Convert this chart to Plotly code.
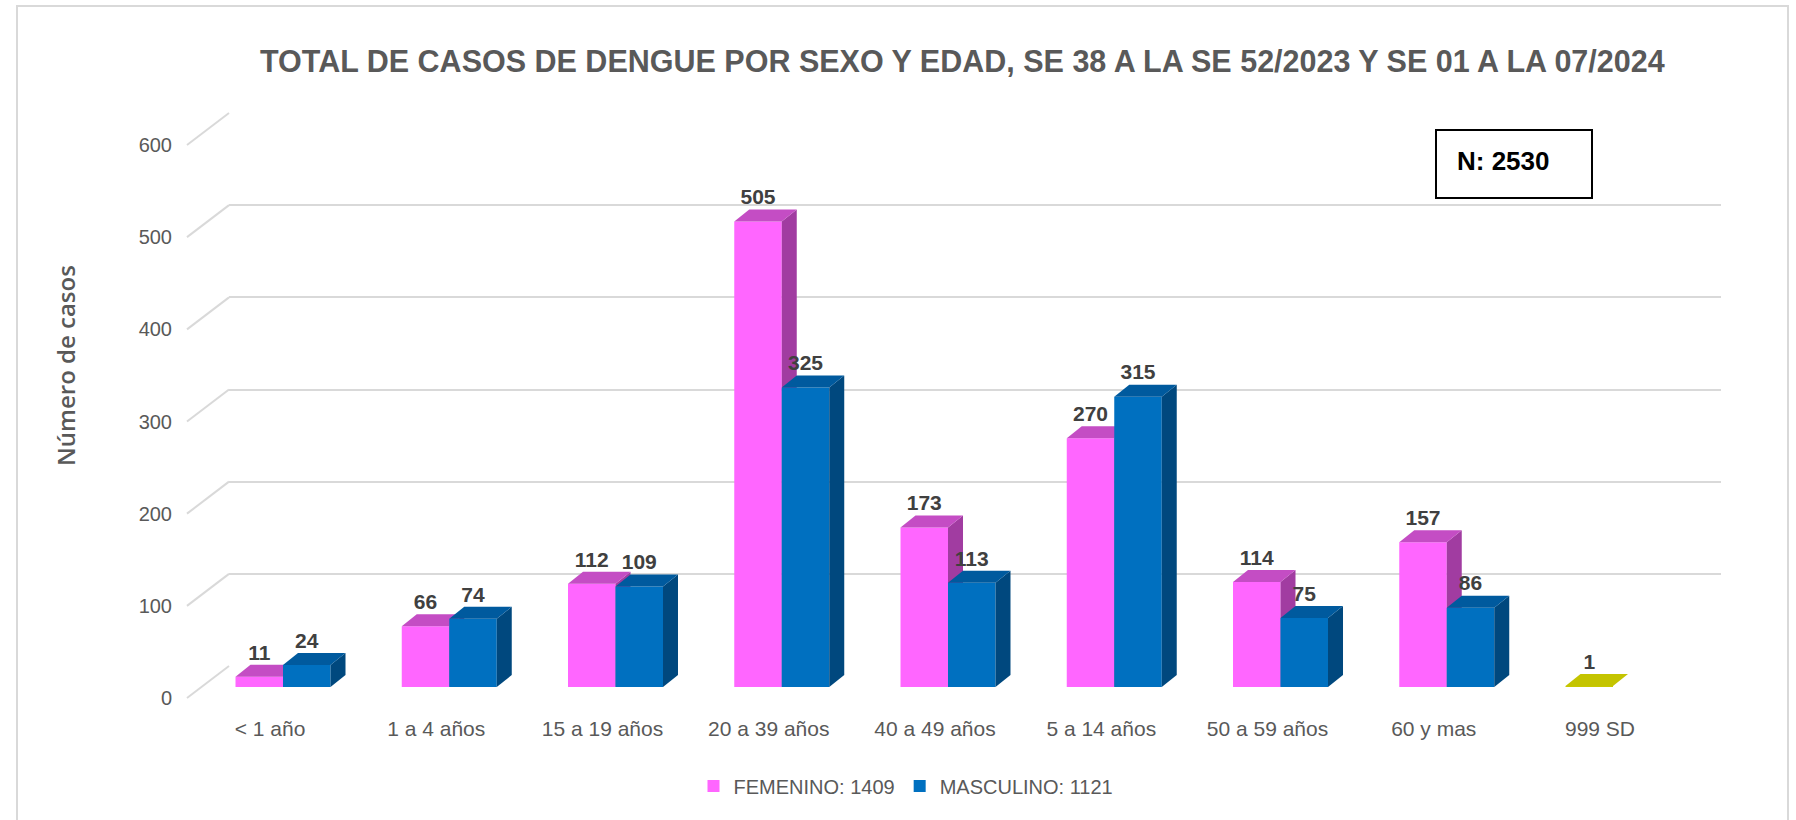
import plotly.graph_objects as go

# ---------------- data ----------------
categories = ["< 1 año", "1 a 4 años", "15 a 19 años", "20 a 39 años", "40 a 49 años",
              "5 a 14 años", "50 a 59 años", "60 y mas", "999 SD"]
femenino = [11, 66, 112, 505, 173, 270, 114, 157, 1]
masculino = [24, 74, 109, 325, 113, 315, 75, 86, None]
fem_name = "FEMENINO: 1409"
mas_name = "MASCULINO: 1121"
y_ticks = [0, 100, 200, 300, 400, 500, 600]
title_text = "TOTAL DE CASOS DE DENGUE POR SEXO Y EDAD, SE 38 A LA SE 52/2023 Y SE 01 A LA 07/2024"
n_text = "N: 2530"

# ---------------- styling / geometry ----------------
W, H = 1796, 820
def fx(p): return p / W
def fy(p): return (H - p) / H

PXU = 553.0 / 600          # pixels per value unit
CAT = 166.25               # pixels per category
BW = 47.5 / CAT            # bar width in category units
DX = 15.0 / CAT            # depth offset x (category units)
DY = 12.0 / PXU            # depth offset y (value units)

pink = dict(front="#FF66FF", top="#C44DC4", side="#A13CA1")
blue = dict(front="#0070C0", top="#005A9E", side="#00487E")
yellow = dict(front="#C8C800", top="#C4C400", side="#9E9E00")

fig = go.Figure()

# back grid subplot (xy)
fig.add_trace(go.Scatter(x=[None], y=[None], xaxis="x", yaxis="y", showlegend=False, hoverinfo="skip"))

def add_series(vals, offset, colors, name, xa, ya, point_colors=None):
    xs = list(range(len(vals)))
    fcols = []
    for i, v in enumerate(vals):
        c = point_colors[i] if point_colors and point_colors[i] else colors
        fcols.append(c["front"])
    fig.add_trace(go.Bar(x=xs, y=[v if v is not None else 0 for v in vals], width=BW, offset=offset,
                         marker=dict(color=fcols, line=dict(width=0)), name=name,
                         xaxis=xa, yaxis=ya, hoverinfo="skip"))
    for i, v in enumerate(vals):
        if v is None:
            continue
        c = point_colors[i] if point_colors and point_colors[i] else colors
        xl = i + offset
        xr = xl + BW
        top_x = [xl, xl + DX, xr + DX, xr, xl]
        top_y = [v, v + DY, v + DY, v, v]
        side_x = [xr, xr + DX, xr + DX, xr, xr]
        side_y = [0, DY, v + DY, v, 0]
        for px_, py_, col in ((side_x, side_y, c["side"]), (top_x, top_y, c["top"])):
            fig.add_trace(go.Scatter(x=px_, y=py_, fill="toself", fillcolor=col, mode="lines",
                                     line=dict(width=0, color=col), showlegend=False,
                                     xaxis=xa, yaxis=ya, hoverinfo="skip"))

fem_point_colors = [None] * (len(femenino) - 1) + [yellow]
add_series(femenino, -BW, pink, fem_name, "x2", "y2", fem_point_colors)
add_series(masculino, 0.0, blue, mas_name, "x3", "y3")

# data labels (top layer)
lab_x, lab_y, lab_t = [], [], []
for i, v in enumerate(femenino):
    lab_x.append(i - BW / 2); lab_y.append(v + DY); lab_t.append(str(v))
for i, v in enumerate(masculino):
    if v is None:
        continue
    lab_x.append(i + BW / 2); lab_y.append(v + DY); lab_t.append(str(v))
fig.add_trace(go.Scatter(x=lab_x, y=lab_y, text=lab_t, mode="text", textposition="top center",
                         textfont=dict(family="Liberation Sans, Arial", size=21, color="#404040", weight="bold"),
                         showlegend=False, xaxis="x3", yaxis="y3", hoverinfo="skip", cliponaxis=False))

# label axes subplot (x4y4)
fig.add_trace(go.Scatter(x=[None], y=[None], xaxis="x4", yaxis="y4", showlegend=False, hoverinfo="skip"))

bar_x_dom = [fx(283 - CAT / 2), fx(283 + 8.5 * CAT)]
bar_y_dom = [fy(687), fy(687 - 600 * PXU)]
grid_y_dom = [fy(666), fy(666 - 600 * PXU)]
front_y_dom = [fy(698), fy(698 - 600 * PXU)]

shapes = []
# grid stubs from front edge to back wall
for v in y_ticks:
    yf = front_y_dom[0] + v / 600 * (front_y_dom[1] - front_y_dom[0])
    yb = grid_y_dom[0] + v / 600 * (grid_y_dom[1] - grid_y_dom[0])
    shapes.append(dict(type="line", xref="paper", yref="paper", x0=fx(187), y0=yf, x1=fx(229), y1=yb,
                       line=dict(color="#D9D9D9", width=2), layer="below"))
# outer chart border
shapes.append(dict(type="rect", xref="paper", yref="paper", x0=fx(17), x1=fx(1788), y0=fy(840), y1=fy(6),
                   line=dict(color="#D9D9D9", width=2), layer="below"))
# N box
shapes.append(dict(type="rect", xref="paper", yref="paper", x0=fx(1436), x1=fx(1592), y0=fy(198), y1=fy(130),
                   line=dict(color="#000000", width=2), fillcolor="white"))

annotations = [
    dict(text=title_text, xref="paper", yref="paper", x=fx(962), y=fy(61), showarrow=False,
         xanchor="center", yanchor="middle",
         font=dict(family="Liberation Sans, Arial", size=30.5, color="#595959", weight="bold")),
    dict(text=n_text, xref="paper", yref="paper", x=fx(1455), y=fy(161), showarrow=False,
         xanchor="left", yanchor="middle",
         font=dict(family="Liberation Sans, Arial", size=26, color="#000000", weight="bold")),
    dict(text="Número de casos", xref="paper", yref="paper", x=fx(66), y=fy(366), showarrow=False,
         textangle=-90, xanchor="center", yanchor="middle",
         font=dict(family="Open Sans", size=24, color="#595959", weight=600)),
]

tick_font = dict(family="Liberation Sans, Arial", size=20, color="#595959")

fig.update_layout(
    width=W, height=H, margin=dict(l=0, r=0, t=0, b=0, pad=0, autoexpand=False),
    paper_bgcolor="white", plot_bgcolor="rgba(0,0,0,0)",
    barmode="overlay", showlegend=True,
    xaxis=dict(domain=[fx(229), fx(1721)], range=[0, 1], visible=False, anchor="y"),
    yaxis=dict(domain=grid_y_dom, range=[0, 600], tickvals=y_ticks, showgrid=True,
               gridcolor="#D9D9D9", gridwidth=2, showticklabels=False, zeroline=False,
               showline=False, ticks="", anchor="x"),
    xaxis2=dict(domain=bar_x_dom, range=[-0.5, 8.5], visible=False, anchor="y2"),
    yaxis2=dict(domain=bar_y_dom, range=[0, 600], visible=False, anchor="x2"),
    xaxis3=dict(overlaying="x2", range=[-0.5, 8.5], visible=False, anchor="y3"),
    yaxis3=dict(overlaying="y2", range=[0, 600], visible=False, anchor="x3"),
    xaxis4=dict(domain=[fx(283 - 13 - CAT / 2), fx(283 - 13 + 8.5 * CAT)], range=[-0.5, 8.5],
                tickvals=list(range(len(categories))), ticktext=categories, anchor="free",
                position=fy(714), showgrid=False, zeroline=False, showline=False, ticks="",
                tickfont=dict(family="Liberation Sans, Arial", size=21, color="#595959")),
    yaxis4=dict(domain=front_y_dom, range=[0, 600], tickvals=y_ticks, anchor="free",
                position=fx(172), showgrid=False, zeroline=False, showline=False, ticks="",
                tickfont=tick_font),
    legend=dict(orientation="h", x=fx(906), y=fy(786), xanchor="center", yanchor="middle",
                font=dict(family="Liberation Sans, Arial", size=20, color="#595959"),
                bgcolor="rgba(0,0,0,0)"),
    shapes=shapes, annotations=annotations,
)

fig.write_html("out.html", config={"displayModeBar": False},
               post_script="document.body.style.margin='0';")
